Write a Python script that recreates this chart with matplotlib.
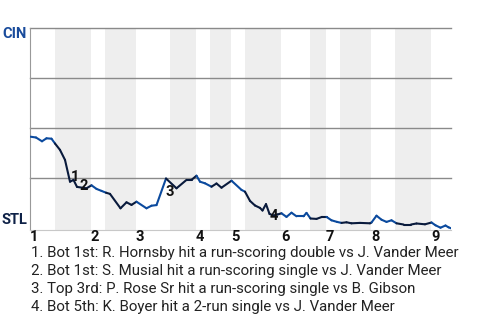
import numpy as np
import matplotlib
matplotlib.use('Agg')
import matplotlib.pyplot as plt
from matplotlib.collections import LineCollection

plt.rcParams['font.family'] = ['Roboto', 'DejaVu Sans']

# play index of each point and CIN win probability (STL = bottom)
plays = [0.1, 1.2, 2.4, 3.3, 4.3, 5.0, 6.0, 7.0, 8.0, 8.7, 9.4, 11.3,
         12.3, 13.3, 14.3, 15.2, 16.0, 18.1, 19.3, 20.3, 21.3, 23.3, 24.3,
         25.3, 27.2, 29.3, 31.3, 32.3, 33.3, 34.0, 35.0, 36.3, 37.3, 38.3,
         40.3, 42.3, 43.0, 44.0, 45.0, 46.0, 46.5, 47.2, 47.9, 48.7, 49.5,
         50.3, 51.3, 52.3, 53.3, 54.7, 55.3, 56.1, 57.3, 58.4, 59.3, 60.3,
         61.4, 62.3, 63.3, 64.3, 66.0, 68.0, 68.3, 69.3, 70.3, 71.3, 72.3,
         73.3, 74.7, 76.2, 77.3, 79.0, 80.3, 81.1, 82.1, 83.1, 83.7, 84.2]
win_prob = [0.458, 0.454, 0.435, 0.450, 0.448, 0.424, 0.392, 0.342, 0.233,
            0.242, 0.207, 0.200, 0.215, 0.197, 0.187, 0.178, 0.172, 0.100,
            0.130, 0.117, 0.133, 0.100, 0.113, 0.116, 0.249, 0.200, 0.242,
            0.242, 0.263, 0.233, 0.225, 0.208, 0.224, 0.203, 0.238, 0.192,
            0.183, 0.137, 0.114, 0.102, 0.089, 0.121, 0.072, 0.064, 0.069,
            0.075, 0.057, 0.078, 0.060, 0.060, 0.077, 0.049, 0.047, 0.057,
            0.057, 0.040, 0.032, 0.027, 0.030, 0.025, 0.027, 0.025, 0.029,
            0.063, 0.043, 0.032, 0.040, 0.025, 0.019, 0.019, 0.024, 0.020,
            0.029, 0.015, 0.003, 0.014, 0.005, 0.000]

# start of each half inning (top 1st, bot 1st, top 2nd, ...) and the end
half_starts = [0, 5, 12.1, 15, 21.2, 28, 33.2, 36, 40.2, 43, 50.2, 56,
               59.1, 62, 68.2, 73, 80.2, 84.2]
innings = ['1', '2', '3', '4', '5', '6', '7', '8', '9']

events = ['1', '2', '3', '4']
event_x = [8.9, 10.8, 27.9, 48.7]
event_y = [0.258, 0.213, 0.183, 0.062]
notes = ['1. Bot 1st: R. Hornsby hit a run-scoring double vs J. Vander Meer',
         '2. Bot 1st: S. Musial hit a run-scoring single vs J. Vander Meer',
         '3. Top 3rd: P. Rose Sr hit a run-scoring single vs B. Gibson',
         '4. Bot 5th: K. Boyer hit a 2-run single vs J. Vander Meer']

top_color = '#0b4a9e'
bot_color = '#091a3c'

fig = plt.figure(figsize=(4.8, 3.2), dpi=100)
ax = fig.add_axes([30 / 480, 1 - 230 / 320, 421 / 480, 201.7 / 320])
ax.set_xlim(0, half_starts[-1])
ax.set_ylim(-0.0085, 1.0)

# shaded bottom halves
for i in range(1, len(half_starts) - 1, 2):
    ax.axvspan(half_starts[i], half_starts[i + 1], color='#eeeeee', lw=0, zorder=0)

for yv in [0.25, 0.5, 0.75, 1.0]:
    ax.axhline(yv, color='#8a8a8a', lw=1.0, zorder=1, clip_on=False)

# line coloured by half inning
pts = np.column_stack([plays, win_prob])
segs = np.stack([pts[:-1], pts[1:]], axis=1)
mids = (pts[:-1, 0] + pts[1:, 0]) / 2
half_idx = np.searchsorted(half_starts, mids, side='right') - 1
colors = [bot_color if h % 2 else top_color for h in half_idx]
lc = LineCollection(segs, colors=colors, linewidths=1.5, zorder=3,
                    capstyle='round', joinstyle='round')
ax.add_collection(lc)

for lab, ex, ey in zip(events, event_x, event_y):
    ax.text(ex, ey, lab, ha='center', va='center', fontsize=10.5,
            fontweight='bold', color='#111111', zorder=4)

for k, lab in enumerate(innings):
    ax.text(half_starts[2 * k], -0.045, lab, ha='left', va='center',
            fontsize=10.5, fontweight='bold', color='#111111')

ax.text(-0.6, 0.971, 'CIN', ha='right', va='center', fontsize=10.5,
        fontweight='bold', color='#1a4c9c')
ax.text(-0.6, 0.0415, 'STL', ha='right', va='center', fontsize=10.5,
        fontweight='bold', color='#0e2147')

for s in ['top', 'right']:
    ax.spines[s].set_visible(False)
ax.spines['left'].set_color('#999999')
ax.spines['bottom'].set_color('#c8c8c8')
ax.set_xticks([])
ax.set_yticks([])

for k, note in enumerate(notes):
    fig.text(31 / 480, 1 - (253.3 + 17.8 * k) / 320, note, ha='left',
             va='center', fontsize=10.8, color='#222222')

fig.savefig('out.png', dpi=100)
